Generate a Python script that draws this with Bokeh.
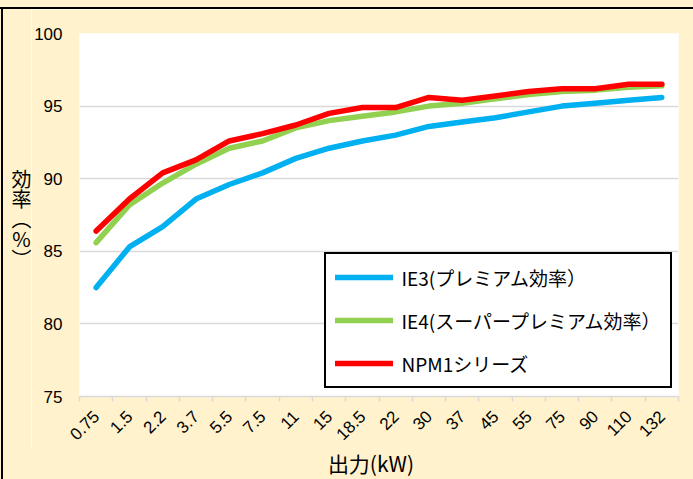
import math
from bokeh.plotting import figure
from bokeh.models import FixedTicker, Legend, LegendItem, Range1d, Div
from bokeh.layouts import row, column
from bokeh.embed import file_html
from bokeh.resources import INLINE

# ---- data ----
outputs_kw = ["0.75", "1.5", "2.2", "3.7", "5.5", "7.5", "11", "15", "18.5",
              "22", "30", "37", "45", "55", "75", "90", "110", "132"]
ie3 = [82.5, 85.3, 86.7, 88.6, 89.6, 90.4, 91.4, 92.1, 92.6,
       93.0, 93.6, 93.9, 94.2, 94.6, 95.0, 95.2, 95.4, 95.6]
ie4 = [85.6, 88.2, 89.7, 91.0, 92.1, 92.6, 93.5, 94.0, 94.3,
       94.6, 95.0, 95.2, 95.5, 95.8, 96.0, 96.1, 96.3, 96.4]
npm1 = [86.4, 88.6, 90.4, 91.3, 92.6, 93.1, 93.7, 94.5, 94.9,
        94.9, 95.6, 95.4, 95.7, 96.0, 96.2, 96.2, 96.5, 96.5]
series_names = ["IE3(プレミアム効率）", "IE4(スーパープレミアム効率）", "NPM1シリーズ"]
series_colors = ["#00B0F0", "#92D050", "#FF0000"]
y_ticks = [75, 80, 85, 90, 95, 100]
y_title = "効率︵%︶"
x_title = "出力(kW)"

FONT = "'Liberation Sans', 'Noto Sans CJK JP', sans-serif"
JP = "'Noto Sans CJK JP', sans-serif"
CREAM = "#FFF2CC"

# ---- layout (page pixels) ----
W, H = 693, 479
TOP_H = 9          # strip holding the top frame line
LEFT_W = 3         # strip holding the left frame line
YT_W = 28          # strip holding the vertical y title
XT_H = 31          # strip holding the x title
FL, FR, FT, FB = 79, 678, 33, 396   # plot-area edges on the page

fig_x0 = LEFT_W + YT_W
fig_y0 = TOP_H
fig_w = W - fig_x0
fig_h = H - TOP_H - XT_H

n = len(outputs_kw)
xs = list(range(n))

p = figure(width=fig_w, height=fig_h, output_backend="svg", toolbar_location=None,
           x_range=Range1d(-0.5, n - 0.5), y_range=Range1d(75, 100),
           min_border_left=FL - fig_x0, min_border_right=W - FR,
           min_border_top=FT - fig_y0, min_border_bottom=fig_y0 + fig_h - FB,
           margin=0)
p.background_fill_color = "white"
p.border_fill_color = CREAM
p.outline_line_color = None

renderers = []
for vals, col in zip([ie3, ie4, npm1], series_colors):
    r = p.line(xs, vals, line_color=col, line_width=5.5,
               line_cap="round", line_join="round")
    renderers.append(r)

# x axis
xa = p.xaxis[0]
xa.ticker = FixedTicker(ticks=xs, minor_ticks=[i - 0.5 for i in range(n + 1)])
xa.major_label_overrides = {i: lab for i, lab in enumerate(outputs_kw)}
xa.major_label_orientation = math.pi / 4
xa.major_tick_line_color = None
xa.major_tick_out = 0
xa.major_tick_in = 0
xa.minor_tick_out = 5
xa.minor_tick_in = 0
xa.minor_tick_line_color = "#D9D9D9"
xa.minor_tick_line_width = 1.5
xa.axis_line_color = "#D9D9D9"
xa.axis_line_width = 1.5
xa.major_label_text_font = FONT
xa.major_label_text_font_size = "17px"
xa.major_label_text_color = "black"
xa.major_label_standoff = 12

# y axis
ya = p.yaxis[0]
ya.ticker = FixedTicker(ticks=y_ticks)
ya.axis_line_color = None
ya.major_tick_line_color = None
ya.major_tick_out = 0
ya.major_tick_in = 0
ya.minor_tick_line_color = None
ya.major_label_text_font = FONT
ya.major_label_text_font_size = "17px"
ya.major_label_text_color = "black"
ya.major_label_standoff = 17

p.xgrid.visible = False
p.ygrid.grid_line_color = "#D9D9D9"
p.ygrid.grid_line_width = 1.5

legend = Legend(items=[LegendItem(label=nm, renderers=[r])
                       for nm, r in zip(series_names, renderers)],
                location=(323.5 - FL, FB - 388))
legend.border_line_color = "black"
legend.border_line_alpha = 1
legend.border_line_width = 2
legend.background_fill_color = "white"
legend.background_fill_alpha = 1
legend.label_text_font = JP
legend.label_text_font_size = "19px"
legend.label_text_color = "black"
legend.glyph_width = 58
legend.glyph_height = 28
legend.label_height = 28
legend.spacing = 15
legend.padding = 9
legend.margin = 0
legend.label_standoff = 9
p.add_layout(legend)

# ---- surrounding strips: frame lines and the two titles ----
top_div = Div(width=W, height=TOP_H, margin=0, text="",
              styles={"background": f"linear-gradient({CREAM} 0 7.5px, #000 7.5px 9.5px)"})
left_div = Div(width=LEFT_W, height=H - TOP_H, margin=0, text="",
               styles={"background": f"linear-gradient(to right, {CREAM} 0 1px, #000 1px 3px)"})
ytitle_html = ("<div style=\"writing-mode:vertical-rl; text-orientation:upright; "
               "padding-top:160px; margin-left:6px; "
               "font-family:'Noto Sans CJK JP',sans-serif; font-size:20px; "
               "line-height:24px; color:#000; white-space:nowrap;\">"
               + y_title + "</div>")
ytitle_div = Div(width=YT_W, height=H - TOP_H, margin=0, text=ytitle_html,
                 styles={"background": CREAM})
xtitle_center = 371 - fig_x0
xtitle_html = ("<div style=\"width:%dpx; text-align:center; "
               "font-family:'Noto Sans CJK JP',sans-serif; font-size:21px; "
               "line-height:30px; color:#000; white-space:nowrap;\">%s</div>"
               % (2 * xtitle_center, x_title))
xtitle_div = Div(width=fig_w, height=XT_H, margin=0, text=xtitle_html,
                 styles={"background": CREAM, "overflow": "hidden"})

page = column(top_div,
              row(left_div, ytitle_div, column(p, xtitle_div, spacing=0), spacing=0),
              spacing=0)

open("out.html", "w").write(file_html(page, INLINE))
